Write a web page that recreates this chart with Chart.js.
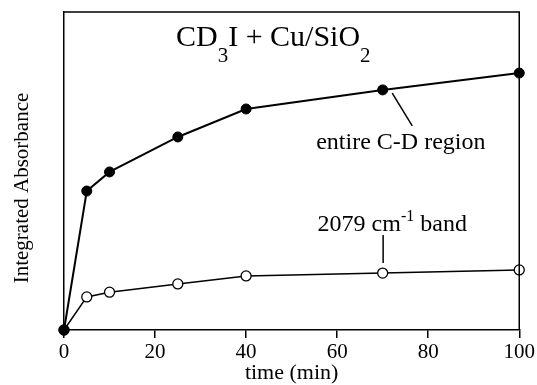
<!DOCTYPE html>
<html><head><meta charset="utf-8">
<script src="https://cdn.jsdelivr.net/npm/chart.js@4"></script>
<style>html,body{margin:0;padding:0;background:#fff}</style>
</head><body>
<canvas id="c" width="537" height="385"></canvas>
<script>
const times = [0, 5, 10, 25, 40, 70, 100];
const entireCD = [0, 43.7, 49.7, 60.7, 69.5, 75.5, 80.8];
const band2079 = [0, 10.4, 11.9, 14.5, 17.0, 17.9, 18.9];
const xTicks = [0, 20, 40, 60, 80, 100];
const yTitle = 'Integrated Absorbance';
const xTitle = 'time (min)';
const SERIF = '"Liberation Serif", "Times New Roman", serif';

function pts(vals){ return times.map((t,i)=>({x:t,y:vals[i]})); }

const annot = {
  id:'annot',
  afterDraw(chart){
    const ctx = chart.ctx, a = chart.chartArea;
    const xs = chart.scales.x, ys = chart.scales.y;
    const X = v=>xs.getPixelForValue(v), Y = v=>ys.getPixelForValue(v);
    ctx.save();
    ctx.strokeStyle='#000'; ctx.lineWidth=1.5;
    ctx.beginPath();
    ctx.moveTo(a.left, a.top); ctx.lineTo(a.right, a.top); ctx.lineTo(a.right, a.bottom);
    ctx.stroke();
    ctx.fillStyle='#000';
    ctx.textBaseline='alphabetic';
    const parts = [['CD',30,0],['3',21,16],['I + Cu/SiO',30,0],['2',21,16]];
    let x = X(24.6); const by = Y(89.3);
    ctx.textAlign='left';
    for (const [t,s,dy] of parts){
      ctx.font = s+'px '+SERIF;
      ctx.fillText(t, x, by+dy);
      x += ctx.measureText(t).width;
    }
    ctx.font='24px '+SERIF;
    ctx.fillText('entire C-D region', X(55.4), Y(56.9));
    ctx.lineWidth=1.5;
    ctx.beginPath(); ctx.moveTo(X(72.1),Y(74.5)); ctx.lineTo(X(76.5),Y(64.2)); ctx.stroke();
    const p1='2079 cm', p2='-1', p3=' band';
    ctx.font='24px '+SERIF; const w1=ctx.measureText(p1).width, w3=ctx.measureText(p3).width;
    ctx.font='16px '+SERIF; const w2=ctx.measureText(p2).width;
    let sx = X(72.1) - (w1+w2+w3)/2; const sy = Y(31.1);
    ctx.font='24px '+SERIF; ctx.fillText(p1, sx, sy); sx+=w1;
    ctx.font='16px '+SERIF; ctx.fillText(p2, sx, sy-10); sx+=w2;
    ctx.font='24px '+SERIF; ctx.fillText(p3, sx, sy);
    ctx.beginPath(); ctx.moveTo(X(70.1),Y(29.9)); ctx.lineTo(X(70.1),Y(21.1)); ctx.stroke();
    ctx.font='21px '+SERIF;
    ctx.translate(a.left-42, (a.top+a.bottom)/2+17);
    ctx.rotate(-Math.PI/2);
    ctx.textAlign='center'; ctx.textBaseline='middle';
    ctx.fillText(yTitle, 0, 0);
    ctx.restore();
  }
};

new Chart(document.getElementById('c'), {
  type:'line',
  data:{ datasets:[
    { label:'entire C-D region', data:pts(entireCD), borderColor:'#000', borderWidth:2,
      pointRadius:5, pointBackgroundColor:'#000', pointBorderColor:'#000', pointBorderWidth:1,
      tension:0, clip:false },
    { label:'2079 cm-1 band', data:pts(band2079), borderColor:'#000', borderWidth:1.5,
      pointRadius:5, pointBackgroundColor:'#fff', pointBorderColor:'#000', pointBorderWidth:1.3,
      tension:0, clip:false }
  ]},
  options:{
    responsive:false, animation:false, devicePixelRatio:1,
    layout:{ padding:{ top:12, right:17, left:0, bottom:0 } },
    plugins:{ legend:{display:false}, tooltip:{enabled:false} },
    scales:{
      x:{ type:'linear', min:0, max:100,
        afterBuildTicks(s){ s.ticks = xTicks.map(v=>({value:v})); },
        afterFit(s){ s.height = 55; },
        ticks:{ color:'#000', font:{family:SERIF, size:21}, padding:2, maxRotation:0 },
        grid:{ display:true, drawOnChartArea:false, drawTicks:true, tickLength:8, color:'#000', lineWidth:1.5 },
        border:{ display:true, color:'#000', width:1.5 },
        title:{ display:true, text:xTitle, color:'#000', font:{family:SERIF, size:22, lineHeight:1.1}, padding:0 }
      },
      y:{ min:0, max:100,
        afterFit(s){ s.width = 64; },
        ticks:{ display:false },
        grid:{ display:false },
        border:{ display:true, color:'#000', width:1.5 }
      }
    }
  },
  plugins:[annot]
});
</script>
</body></html>
